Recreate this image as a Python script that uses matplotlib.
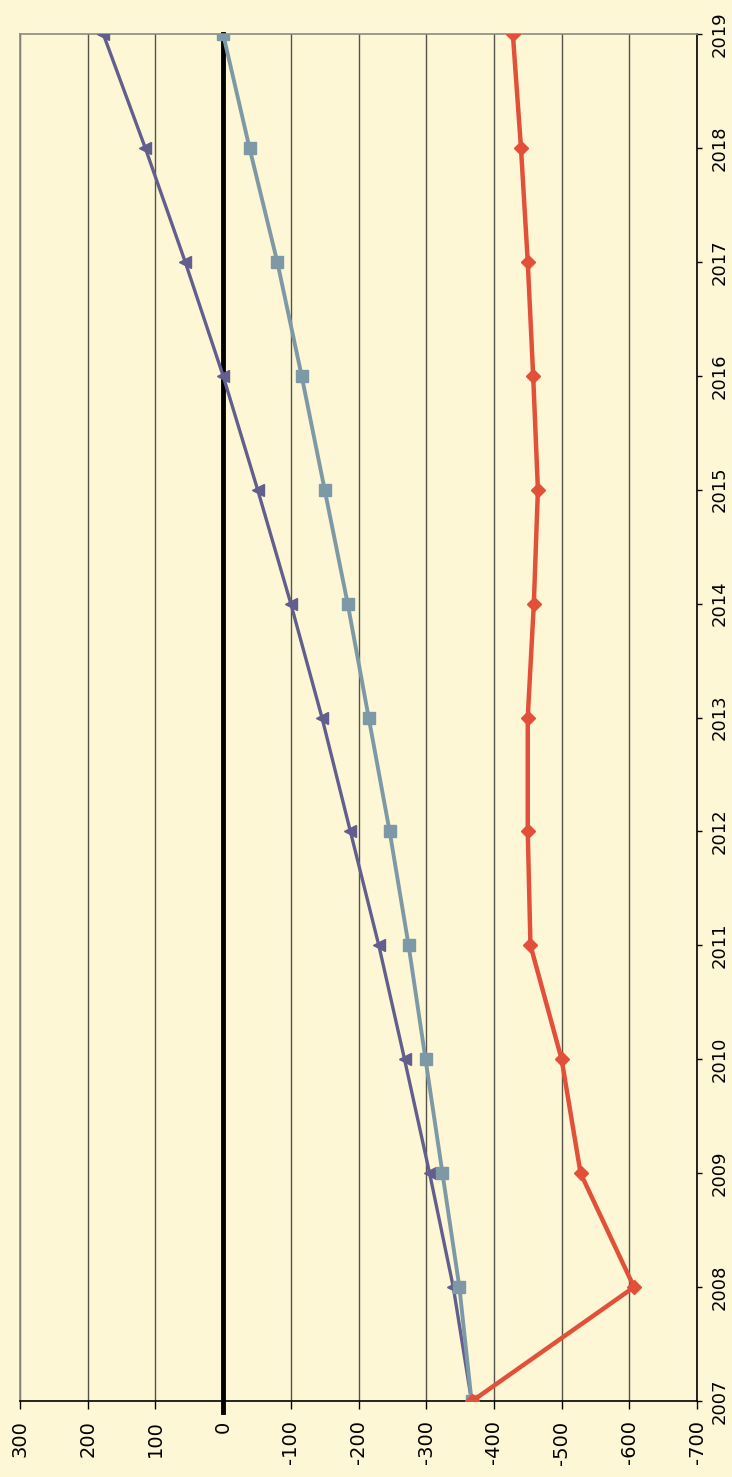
import numpy as np
import matplotlib
matplotlib.use("Agg")
import matplotlib.pyplot as plt

years = list(range(2007, 2020))
tri_vals = [-367, -340, -305, -268, -230, -188, -146, -100, -51, 0, 56, 115, 177]
sq_vals = [-367, -349, -324, -299, -274, -246, -215, -184, -150, -116, -80, -39, 0]
dia_vals = [-368, -607, -528, -500, -454, -450, -450, -459, -465, -458, -450, -440, -428]
xticks = [300, 200, 100, 0, -100, -200, -300, -400, -500, -600, -700]

bg = "#FDF7D6"
fig = plt.figure(figsize=(7.32, 14.77), dpi=100, facecolor=bg)
ax = fig.add_axes([20/732, 1 - 1401/1477, 677/732, 1367/1477], facecolor=bg)

ax.set_xlim(300, -700)
ax.set_ylim(2007, 2019)

for v in xticks:
    if v != 0:
        ax.axvline(v, color="#55524a", lw=1.0, zorder=1)
# zero line, poking slightly below the bottom axis like the original
ax.axvline(0, ymin=-0.008, ymax=1, color="black", lw=3.5, zorder=2, clip_on=False)

ax.plot(tri_vals, years, color="#625E8E", lw=2.4, marker="<", ms=9, zorder=3)
ax.plot(sq_vals, years, color="#7E99A6", lw=2.8, marker="s", ms=8, zorder=4)
ax.plot(dia_vals, years, color="#E2503A", lw=3.2, marker="D", ms=7, zorder=5)

ax.spines["top"].set_color("#8a8a86")
ax.spines["left"].set_color("#8a8a86")
ax.spines["bottom"].set_color("black")
ax.spines["right"].set_color("black")
for s in ax.spines.values():
    s.set_linewidth(1.2)

ax.set_xticks(xticks)
ax.set_xticklabels([str(v) for v in xticks], rotation=90, fontsize=14,
                   family="DejaVu Sans")
ax.set_yticks(years)
ax.set_yticklabels([str(y) for y in years], rotation=90, fontsize=13,
                   family="DejaVu Sans", va="center")
ax.yaxis.tick_right()
ax.tick_params(axis="x", direction="out", length=6, width=1, pad=8)
ax.tick_params(axis="y", direction="out", length=3.6, width=1, pad=6)

fig.savefig("out.png", dpi=100, facecolor=bg)
